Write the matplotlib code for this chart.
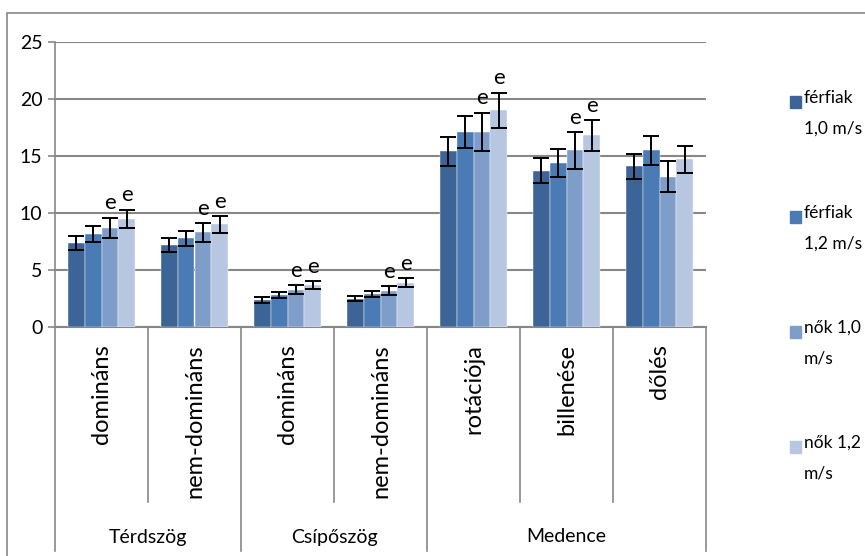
import numpy as np
import matplotlib
matplotlib.use("Agg")
import matplotlib.pyplot as plt
from matplotlib.patches import Rectangle
import matplotlib.transforms as mtransforms

# ---- data ----
categories = ["domináns", "nem-domináns", "domináns", "nem-domináns",
              "rotációja", "billenése", "dőlés"]
groups = ["Térdszög", "Csípőszög", "Medence"]
group_sizes = [2, 2, 3]
series = ["férfiak\n1,0 m/s", "férfiak\n1,2 m/s", "nők 1,0\nm/s", "nők 1,2\nm/s"]

ferfi_10 = [7.4, 7.2, 2.4, 2.5, 15.4, 13.7, 14.1]
ferfi_12 = [8.2, 7.8, 2.8, 2.9, 17.1, 14.4, 15.5]
nok_10 = [8.7, 8.3, 3.3, 3.2, 17.1, 15.5, 13.2]
nok_12 = [9.5, 9.0, 3.7, 3.9, 19.0, 16.8, 14.7]

ferfi_10_err = [0.6, 0.6, 0.23, 0.23, 1.25, 1.1, 1.1]
ferfi_12_err = [0.7, 0.65, 0.26, 0.28, 1.4, 1.2, 1.25]
nok_10_err = [0.9, 0.85, 0.36, 0.38, 1.7, 1.6, 1.35]
nok_12_err = [0.8, 0.75, 0.33, 0.38, 1.55, 1.35, 1.2]

# "e" marks (significance) per series
ferfi_10_sig = [0, 0, 0, 0, 0, 0, 0]
ferfi_12_sig = [0, 0, 0, 0, 0, 0, 0]
nok_10_sig = [1, 1, 1, 1, 1, 1, 0]
nok_12_sig = [1, 1, 1, 1, 1, 1, 0]

values = [ferfi_10, ferfi_12, nok_10, nok_12]
errors = [ferfi_10_err, ferfi_12_err, nok_10_err, nok_12_err]
sigs = [ferfi_10_sig, ferfi_12_sig, nok_10_sig, nok_12_sig]
colors = ["#3d6497", "#4a7bb4", "#7f9dc9", "#b7c6e1"]

plt.rcParams["font.family"] = ["Lato", "DejaVu Sans"]

grid_c = "#878787"

fig = plt.figure(figsize=(8.65, 5.56), dpi=100)
ax = fig.add_axes([55 / 865, 1 - 327.3 / 556, (706 - 55) / 865, (327.3 - 41.7) / 556])

n_cat = len(categories)
x = np.arange(n_cat)
w = 1 / 5.5
off0 = (1 - 4 * w) / 2

for k in range(4):
    xs = x + off0 + w * (k + 0.5)
    ax.bar(xs, values[k], width=w, color=colors[k], zorder=3,
           edgecolor="white", linewidth=0.3)
    ax.errorbar(xs, values[k], yerr=errors[k], fmt="none", ecolor="black",
                elinewidth=1.4, capsize=5.5, capthick=1.4, zorder=4)
    for i in range(n_cat):
        if sigs[k][i]:
            ax.annotate("e", (xs[i], values[k][i] + errors[k][i]),
                        xytext=(0, 3), textcoords="offset points",
                        ha="center", va="bottom", fontsize=16, zorder=5)

ax.set_xlim(0, n_cat)
ax.set_ylim(0, 25)
ax.set_yticks(np.arange(0, 26, 5))
ax.tick_params(axis="y", direction="out", length=5, width=1.2, color=grid_c,
               labelsize=14, pad=4)
ax.set_xticks([])
ax.yaxis.grid(True, color=grid_c, linewidth=1.5, zorder=0)
ax.set_axisbelow(True)
for s in ["top", "right"]:
    ax.spines[s].set_visible(False)
ax.spines["left"].set_visible(False)
ax.spines["bottom"].set_color(grid_c)
ax.spines["bottom"].set_linewidth(1.5)

# category axis, multilevel
trans = mtransforms.blended_transform_factory(ax.transData, ax.transAxes)
ax_h = 327.3 - 41.7
y_inner = -(502 - 327.3) / ax_h
y_outer = -(551 - 327.3) / ax_h
ax.plot([0, 0], [y_outer, 1], transform=trans, color=grid_c, lw=1.2, clip_on=False)

bounds = np.cumsum([0] + group_sizes)
for b in range(1, n_cat + 1):
    bottom = y_outer if b in bounds else y_inner
    ax.plot([b, b], [0, bottom], transform=trans, color=grid_c, lw=1.2, clip_on=False)

for i, c in enumerate(categories):
    ax.text(i + 0.5, -(344 - 327.3) / ax_h, c, transform=trans, rotation=90,
            ha="center", va="top", fontsize=17)

for g, name in enumerate(groups):
    cx = (bounds[g] + bounds[g + 1]) / 2
    ax.text(cx, -(537 - 327.3) / ax_h, name, transform=trans,
            ha="center", va="center", fontsize=14)

# legend
for k, lab in enumerate(series):
    ytop = 1 - (96 + 115 * k) / 556
    fig.patches.append(Rectangle((790 / 865, ytop - 12 / 556), 11 / 865, 12 / 556,
                                 transform=fig.transFigure, color=colors[k]))
    fig.text(804 / 865, ytop + 6 / 556, lab, ha="left", va="top", fontsize=12.5,
             linespacing=2.1)

# chart-area border
fig.patches.append(Rectangle((7 / 865, -0.1), 1.2, 1 - 13 / 556 + 0.1,
                             transform=fig.transFigure, fill=False,
                             edgecolor=grid_c, lw=1.2))

fig.savefig("out.png", dpi=100)
